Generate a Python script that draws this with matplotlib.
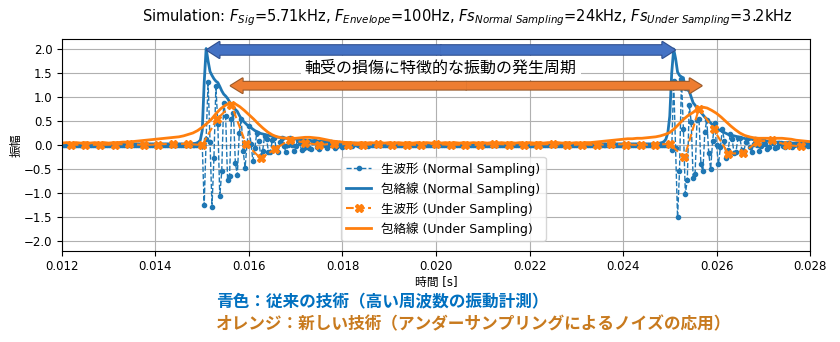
import numpy as np
import matplotlib
matplotlib.use("Agg")
from matplotlib import pyplot as plt
from matplotlib.patches import FancyArrowPatch

plt.rcParams['font.family'] = ['DejaVu Sans', 'Noto Sans CJK JP']
plt.rcParams['axes.unicode_minus'] = True

# sampling settings (from the title)
T_START = 0.012
FS_NORMAL = 24000
FS_UNDER = 3200
N_NORMAL = 385
ENV_STEP = 0.0001

# raw waveform, normal sampling (values around the two bursts)
burst1_start = 72   # sample index of t = 0.015
burst1_raw = [0.0, -1.26, 0.13, 1.32, 0.07, -1.29, -0.27, 1.23, 0.44, -1.07,
              -0.55, 0.88, 0.61, -0.72, -0.65, 0.54, 0.66, -0.37, -0.63, 0.24,
              0.55, -0.12, -0.47, 0.03, 0.40, 0.03, -0.33, -0.07, 0.26, 0.09,
              -0.22, -0.12, 0.18, 0.13, -0.14, -0.14, 0.11, 0.15, -0.08, -0.15,
              0.06, 0.15, -0.03, -0.15, 0.01, 0.14, 0.01, -0.13, -0.03, 0.11,
              0.05, -0.11, -0.06, 0.09, 0.07, -0.07, -0.08, 0.06, 0.08, -0.04,
              -0.08, 0.03, 0.08, -0.01, -0.07, 0.0, 0.07, 0.01, -0.06, -0.02,
              0.05, 0.02, -0.04, -0.02, 0.03, 0.03, -0.03, -0.02, 0.02, 0.03,
              -0.01, -0.02, 0.01, 0.02, 0.0, -0.02, 0.0, 0.01, 0.0]
burst2_start = 312  # sample index of t = 0.025
burst2_raw = [0.0, -0.10, 1.34, -0.06, -1.51, -0.55, 1.38, 0.34, -1.02, -0.73,
              0.84, 0.48, -0.68, -0.60, 0.53, 0.55, -0.40, -0.55, 0.27, 0.53,
              -0.17, -0.50, 0.08, 0.46, -0.01, -0.40, -0.05, 0.33, 0.09, -0.27,
              -0.11, 0.22, 0.13, -0.17, -0.14, 0.14, 0.15, -0.10, -0.15, 0.07,
              0.14, -0.04, -0.14, 0.02, 0.13, 0.0, -0.12, -0.02, 0.11, 0.03,
              -0.09, -0.04, 0.08, 0.05, -0.06, -0.05, 0.05, 0.05, -0.03, -0.04,
              0.02, 0.05, -0.01, -0.04, 0.0, 0.03, 0.0, -0.03, 0.0, 0.02,
              0.01, -0.02, -0.01]

# envelope, normal sampling
env_base = 0.02
env1_start = 67
env1 = [0.03, 0.03, 0.04, 0.06, 0.10, 0.30, 1.30, 2.01, 1.75, 1.53,
        1.45, 1.38, 1.33, 1.30, 1.22, 1.13, 1.06, 1.02, 0.97, 0.90,
        0.85, 0.78, 0.74, 0.70, 0.62, 0.55, 0.50, 0.46, 0.42, 0.39,
        0.36, 0.33, 0.30, 0.28, 0.26, 0.24, 0.23, 0.22, 0.21, 0.20,
        0.19, 0.18, 0.17, 0.17, 0.16, 0.16, 0.15, 0.15, 0.14, 0.14,
        0.14, 0.13, 0.13, 0.13, 0.12, 0.12, 0.11, 0.11, 0.10, 0.10,
        0.10, 0.09, 0.09, 0.09, 0.08, 0.08, 0.08, 0.07, 0.07, 0.07,
        0.06, 0.06, 0.06, 0.05, 0.05, 0.05, 0.05, 0.04, 0.04, 0.04,
        0.04, 0.03, 0.03, 0.03, 0.03, 0.03, 0.03, 0.02, 0.02, 0.02]
env2_start = 307
env2 = [0.04, 0.05, 0.07, 0.12, 0.25,
        0.6, 1.5, 2.0, 1.8, 1.52, 1.45, 1.42, 1.40, 1.15, 1.15,
        1.12, 1.0, 0.88, 0.83, 0.76, 0.72, 0.68, 0.63, 0.58, 0.54,
        0.50, 0.46, 0.42, 0.38, 0.35, 0.32, 0.30, 0.28, 0.26, 0.24,
        0.22, 0.21, 0.20, 0.19, 0.18, 0.17, 0.16, 0.15, 0.14, 0.13,
        0.13, 0.12, 0.12, 0.11, 0.11, 0.10, 0.10, 0.09, 0.09, 0.08,
        0.08, 0.07, 0.07, 0.07, 0.06, 0.06, 0.06, 0.05, 0.05, 0.05,
        0.05, 0.04, 0.04, 0.04, 0.04, 0.04, 0.04, 0.04, 0.03, 0.03,
        0.03, 0.03, 0.03]

# raw waveform, under sampling (3.2kHz)
under_t0 = 0.0121875
under_raw = [0.0, 0.01, 0.0, 0.01, 0.02, 0.0, 0.01, 0.03, 0.02,
             0.0,
             0.54, 0.83, 0.02, -0.28, -0.08, 0.11, 0.05, 0.0, 0.03,
             0.01, 0.0, 0.02, 0.01, 0.0, 0.01, 0.02, 0.0, 0.01, 0.0, 0.02,
             0.01, 0.0, 0.01, 0.02, 0.0, 0.01, 0.0, 0.02, 0.01, 0.0, 0.01,
             0.02, -0.26, 0.76, 0.33, -0.18, -0.17, 0.07, 0.10, 0.0, -0.03]

# envelope, under sampling (drawn every 0.1 ms)
under_env = [0.04, 0.05, 0.04, 0.05, 0.04, 0.05, 0.04, 0.05, 0.04, 0.05,
             0.04, 0.05, 0.05, 0.06, 0.06, 0.07, 0.08, 0.09, 0.10, 0.11,
             0.12, 0.13, 0.14, 0.15, 0.16, 0.17, 0.19, 0.22, 0.25, 0.30,
             0.37, 0.45, 0.54, 0.66, 0.76, 0.83, 0.87, 0.86, 0.80, 0.72,
             0.63, 0.54, 0.44, 0.35, 0.27, 0.21, 0.17, 0.15, 0.14, 0.14,
             0.14, 0.15, 0.16, 0.16, 0.15, 0.14, 0.12, 0.10, 0.08, 0.07,
             0.06, 0.05, 0.05, 0.04, 0.05, 0.04, 0.05, 0.04, 0.05, 0.04,
             0.05, 0.04, 0.05, 0.04, 0.05, 0.04, 0.05, 0.04, 0.05, 0.04,
             0.05, 0.04, 0.05, 0.04, 0.05, 0.04, 0.05, 0.04, 0.05, 0.04,
             0.05, 0.04, 0.05, 0.04, 0.05, 0.04, 0.05, 0.04, 0.05, 0.04,
             0.05, 0.04, 0.05, 0.04, 0.05, 0.04, 0.05, 0.04, 0.05, 0.04,
             0.05, 0.04, 0.05, 0.05, 0.06, 0.07, 0.08, 0.09, 0.10, 0.11,
             0.12, 0.13, 0.13, 0.14, 0.14, 0.15, 0.16, 0.17, 0.19, 0.22,
             0.26, 0.34, 0.44, 0.54, 0.62, 0.68, 0.76, 0.79, 0.77, 0.72,
             0.66, 0.58, 0.49, 0.40, 0.32, 0.25, 0.20, 0.17, 0.15, 0.14,
             0.14, 0.14, 0.14, 0.14, 0.14, 0.13, 0.12, 0.10, 0.09, 0.08,
             0.07]

labels = ['生波形 (Normal Sampling)', '包絡線 (Normal Sampling)',
          '生波形 (Under Sampling)', '包絡線 (Under Sampling)']
title = (r'Simulation: $F_{Sig}$=5.71kHz, $F_{Envelope}$=100Hz, '
         r'$Fs_{Normal\ Sampling}$=24kHz, $Fs_{Under\ Sampling}$=3.2kHz')
period_text = '軸受の損傷に特徴的な振動の発生周期'
note_blue = '青色：従来の技術（高い周波数の振動計測）'
note_orange = 'オレンジ：新しい技術（アンダーサンプリングによるノイズの応用）'


def place(base, start, values):
    out = base.copy()
    vals = np.asarray(values[:len(out) - start])
    out[start:start + len(vals)] = vals
    return out


t_normal = T_START + np.arange(N_NORMAL) / FS_NORMAL
normal_raw = place(np.zeros(N_NORMAL), burst1_start, burst1_raw)
normal_raw = place(normal_raw, burst2_start, burst2_raw)
normal_env = place(np.full(N_NORMAL, env_base), env1_start, env1)
normal_env = place(normal_env, env2_start, env2)

t_under = under_t0 + np.arange(len(under_raw)) / FS_UNDER
t_under_env = T_START + np.arange(len(under_env)) * ENV_STEP

blue = '#1f77b4'
orange = '#ff7f0e'

fig = plt.figure(figsize=(8.4, 3.42), dpi=100)
ax = fig.add_axes([0.0738, 0.2673, 0.8905, 0.6175])

ax.plot(t_normal, normal_raw, '--o', color=blue, lw=1.0, ms=3.0, label=labels[0])
ax.plot(t_normal, normal_env, '-', color=blue, lw=2, label=labels[1])
ax.plot(t_under, under_raw, '--X', color=orange, lw=1.5, ms=6, label=labels[2])
ax.plot(t_under_env, under_env, '-', color=orange, lw=2, label=labels[3])

ax.set_xlim(0.012, 0.028)
ax.set_ylim(-2.2, 2.2)
ax.set_xticks(np.arange(0.012, 0.0281, 0.002))
ax.set_yticks(np.arange(-2.0, 2.01, 0.5))
ax.tick_params(labelsize=8.5)
ax.grid(True, color='#b0b0b0', lw=0.8)
ax.set_xlabel('時間 [s]', fontsize=8.5, labelpad=2)
ax.set_ylabel('振幅', fontsize=8.5, labelpad=1)

ax.legend(loc='lower center', bbox_to_anchor=(0.51, 0.035), fontsize=9,
          borderaxespad=0.2)


def double_arrow(x0, x1, y, face, edge, tail, head_w, head_l):
    xm = (x0 + x1) / 2
    style = f'simple,head_length={head_l},head_width={head_w},tail_width={tail}'
    for (fc, ec, lw) in [(face, edge, 1.6), (face, 'none', 0)]:
        for xe in (x0, x1):
            ax.add_patch(FancyArrowPatch((xm, y), (xe, y), arrowstyle=style,
                                         mutation_scale=10, fc=fc, ec=ec, lw=lw,
                                         shrinkA=0, shrinkB=0, zorder=5))


double_arrow(0.0151, 0.02511, 1.98, '#4472c4', '#2f4f8f', 0.68, 1.15, 0.9)
double_arrow(0.01561, 0.02568, 1.235, '#ed7d31', '#9a5a2a', 0.55, 1.05, 0.85)

ax.text(0.0201, 1.6, period_text, ha='center', va='center', fontsize=11.5,
        zorder=6, bbox=dict(fc='white', ec='none', pad=3))

fig.text(0.556, 0.947, title, ha='center', va='center', fontsize=10.5)
fig.text(0.257, 0.117, note_blue, ha='left', va='center', fontsize=12,
         color='#0070c0', fontweight='bold')
fig.text(0.257, 0.052, note_orange, ha='left', va='center', fontsize=12,
         color='#c87a1e', fontweight='bold')

fig.savefig('out.png', dpi=100)
